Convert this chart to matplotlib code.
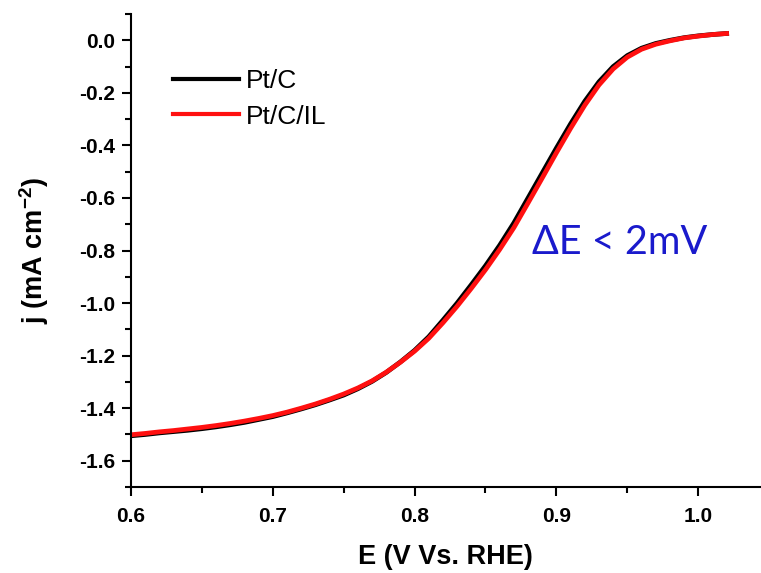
import matplotlib
matplotlib.use('Agg')
import matplotlib.pyplot as plt
from matplotlib.ticker import MultipleLocator, FormatStrFormatter

# 数据：电位 (V vs. RHE) 与电流密度 (mA cm^-2)
potential = [0.60, 0.61, 0.62, 0.63, 0.64, 0.65, 0.66, 0.67, 0.68, 0.69,
             0.70, 0.71, 0.72, 0.73, 0.74, 0.75, 0.76, 0.77, 0.78, 0.79,
             0.80, 0.81, 0.82, 0.83, 0.84, 0.85, 0.86, 0.87, 0.88, 0.89,
             0.90, 0.91, 0.92, 0.93, 0.94, 0.95, 0.96, 0.97, 0.98, 0.99,
             1.00, 1.01, 1.02]

j_ptc = [-1.505, -1.500, -1.494, -1.489, -1.484, -1.478, -1.471, -1.463, -1.454, -1.443,
         -1.432, -1.418, -1.403, -1.387, -1.369, -1.350, -1.326, -1.298, -1.264, -1.224,
         -1.180, -1.128, -1.065, -1.000, -0.930, -0.858, -0.780, -0.695, -0.600, -0.505,
         -0.410, -0.318, -0.232, -0.158, -0.100, -0.058, -0.030, -0.012, 0.000, 0.010,
         0.017, 0.022, 0.026]

j_ptc_il = [-1.501, -1.496, -1.490, -1.485, -1.479, -1.473, -1.466, -1.458, -1.449, -1.439,
            -1.428, -1.415, -1.400, -1.384, -1.366, -1.346, -1.323, -1.296, -1.263, -1.225,
            -1.183, -1.134, -1.075, -1.012, -0.944, -0.873, -0.796, -0.713, -0.619, -0.524,
            -0.428, -0.335, -0.247, -0.170, -0.109, -0.064, -0.034, -0.015, -0.002, 0.009,
            0.016, 0.022, 0.026]

plt.rcParams['font.family'] = ['Liberation Sans', 'DejaVu Sans']
plt.rcParams['axes.unicode_minus'] = False
plt.rcParams['mathtext.fontset'] = 'custom'
plt.rcParams['mathtext.bf'] = 'Liberation Sans:bold'
plt.rcParams['mathtext.rm'] = 'Liberation Sans:bold'

fig = plt.figure(figsize=(7.61, 5.73), dpi=100)
ax = fig.add_axes([0.172, 0.150, 0.827, 0.8255])

# 绘制两条曲线
ax.plot(potential, j_ptc, color='black', linewidth=3.4, label='Pt/C')
ax.plot(potential, j_ptc_il, color='#ff1010', linewidth=3.4, label='Pt/C/IL')

ax.set_xlim(0.6, 1.0437)
ax.set_ylim(-1.7, 0.1)

ax.xaxis.set_major_locator(MultipleLocator(0.1))
ax.xaxis.set_minor_locator(MultipleLocator(0.05))
ax.yaxis.set_major_locator(MultipleLocator(0.2))
ax.yaxis.set_minor_locator(MultipleLocator(0.1))
ax.xaxis.set_major_formatter(FormatStrFormatter('%.1f'))
ax.yaxis.set_major_formatter(FormatStrFormatter('%.1f'))

for side in ['top', 'right']:
    ax.spines[side].set_visible(False)
for side in ['left', 'bottom']:
    ax.spines[side].set_linewidth(1.5)

ax.tick_params(which='major', direction='out', length=6.5, width=1.5, labelsize=15)
ax.tick_params(axis='x', which='major', pad=8)
ax.tick_params(axis='y', which='major', pad=5)
ax.tick_params(which='minor', direction='out', length=4, width=1.5)
for lbl in ax.get_xticklabels() + ax.get_yticklabels():
    lbl.set_fontweight('bold')

ax.set_xlabel('E (V Vs. RHE)', fontsize=19.5, fontweight='bold', labelpad=13)
ax.set_ylabel(r'j (mA cm$^{-2}$)', fontsize=19.5, fontweight='bold', labelpad=20)

# 图例
leg = ax.legend(loc='center left', bbox_to_anchor=(0.067, 0.821), frameon=False,
                fontsize=19, handlelength=2.5, handletextpad=0.25, labelspacing=0.45,
                borderpad=0, borderaxespad=0)
for line in leg.get_lines():
    line.set_linewidth(3)

# 注释文字
ax.text(0.883, -0.77, 'ΔE < 2mV', color='#1a1acc', fontsize=28.5,
        family=['Lato', 'DejaVu Sans'], ha='left', va='center')

plt.savefig('out.png', dpi=100)
